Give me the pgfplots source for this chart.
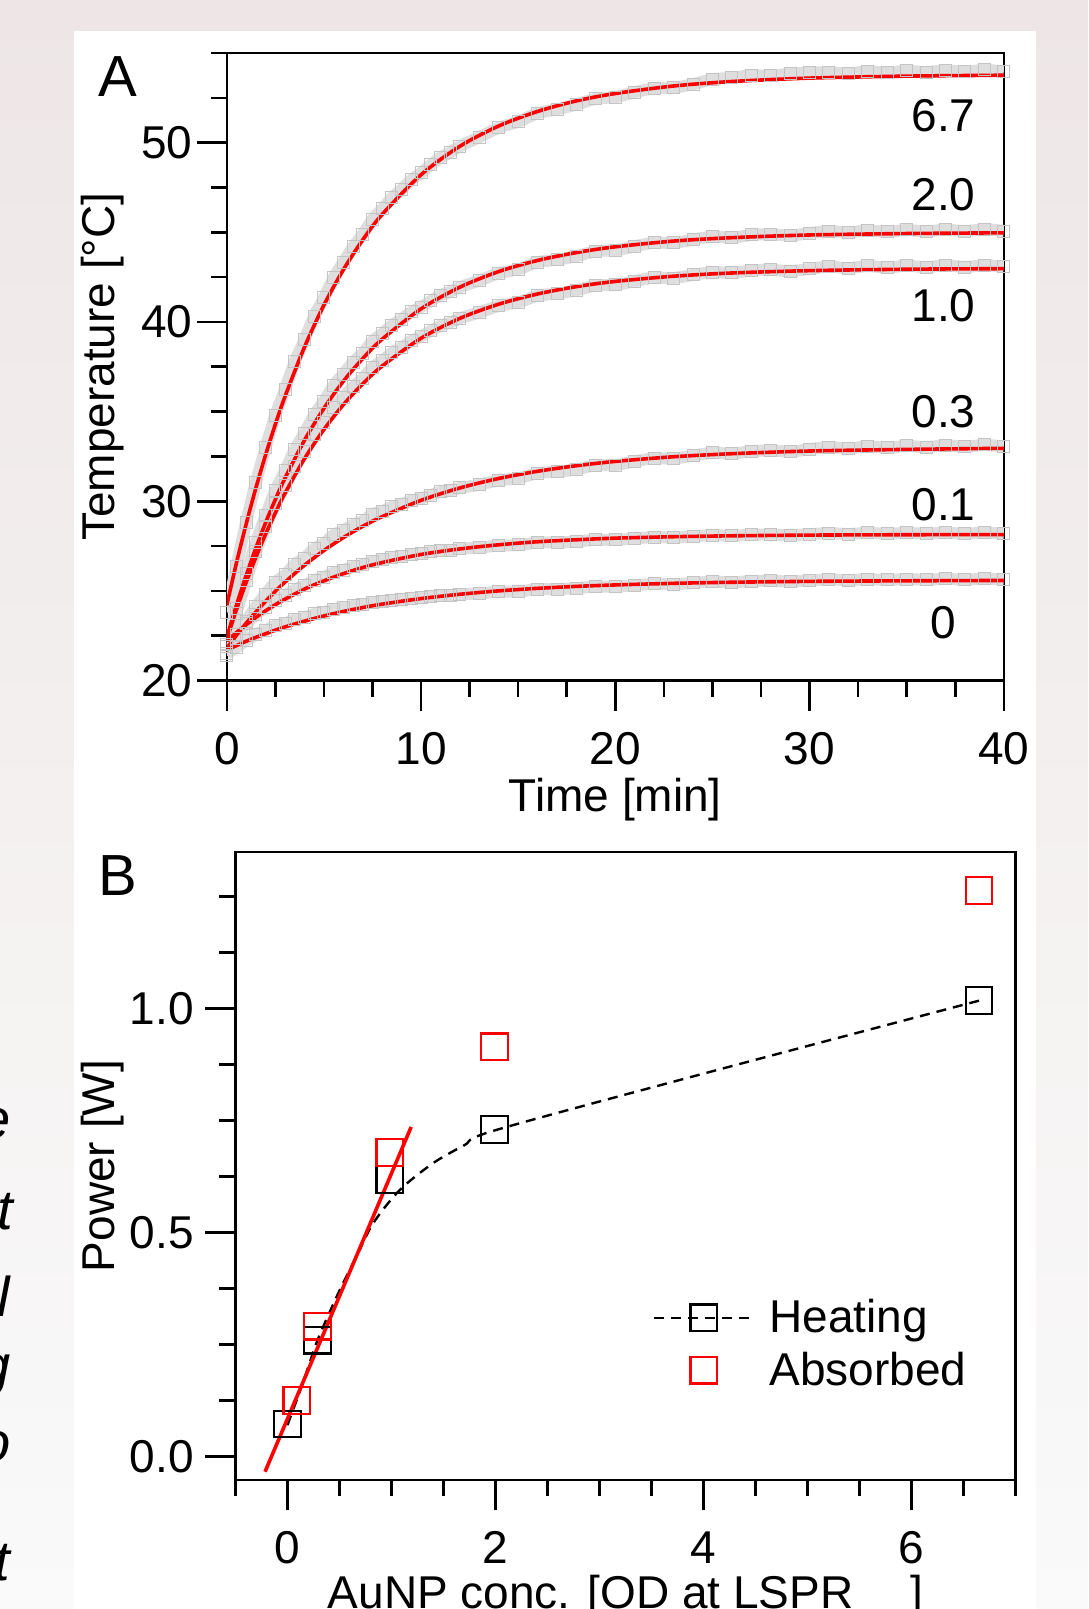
\documentclass[border=0pt]{standalone}
\usepackage{fontspec}
\setmainfont{Liberation Sans}
\usepackage{pgfplots}
\usepackage{pgfplotstable}
\pgfplotsset{compat=1.18}

\definecolor{bgtop}{RGB}{238,230,230}
\definecolor{bgbot}{RGB}{250,250,250}
\definecolor{markgray}{RGB}{196,196,196}
\definecolor{bandgray}{RGB}{222,222,222}

% measured temperature traces (gray squares)
\pgfplotstableread{
t    c67   c20   c10   c03   c01   c0
0    23.80 22.00 21.90 21.40 22.00 21.50
0.5  26.37 24.01 23.76 22.32 22.58 21.85
1    28.84 25.97 25.58 23.30 23.16 22.24
1.5  31.05 27.70 27.18 24.13 23.67 22.56
2    32.99 29.21 28.57 24.82 24.09 22.81
2.5  34.79 30.60 29.85 25.48 24.48 23.06
3    36.25 31.69 30.85 25.89 24.74 23.19
3.5  37.78 32.89 31.95 26.48 25.08 23.40
4    39.00 33.80 32.77 26.83 25.30 23.51
4.5  40.32 34.82 33.72 27.35 25.59 23.71
5    41.34 35.58 34.40 27.65 25.76 23.80
5.5  42.47 36.46 35.22 28.12 26.02 23.98
6    43.31 37.09 35.78 28.37 26.16 24.05
6.5  44.18 37.75 36.39 28.69 26.34 24.16
7    44.88 38.26 36.85 28.90 26.45 24.22
7.5  45.72 38.93 37.47 29.28 26.65 24.37
8    46.30 39.34 37.84 29.44 26.73 24.41
8.5  46.92 39.82 38.28 29.69 26.86 24.49
9    47.40 40.16 38.58 29.83 26.92 24.53
9.5  47.92 40.56 38.95 30.04 27.03 24.60
10   48.31 40.83 39.19 30.15 27.08 24.62
10.5 48.76 41.17 39.50 30.34 27.17 24.69
11   49.17 41.49 39.79 30.52 27.25 24.75
11.5 49.45 41.68 39.96 30.58 27.27 24.76
12   49.80 41.94 40.20 30.74 27.34 24.81
13   50.31 42.31 40.53 30.92 27.42 24.86
14   50.83 42.71 40.89 31.17 27.52 24.95
15   51.17 42.94 41.10 31.28 27.56 24.97
16   51.64 43.33 41.46 31.57 27.69 25.09
17   51.86 43.47 41.58 31.64 27.70 25.10
18   52.13 43.67 41.77 31.78 27.75 25.15
19   52.45 43.95 42.03 32.01 27.85 25.24
20   52.54 43.99 42.06 32.02 27.84 25.23
21   52.81 44.22 42.27 32.22 27.92 25.31
22   53.04 44.42 42.47 32.40 28.00 25.39
23   53.06 44.41 42.45 32.38 27.97 25.37
24   53.26 44.59 42.62 32.54 28.04 25.44
25   53.54 44.75 42.78 32.70 28.11 25.51
26   53.61 44.70 42.73 32.65 28.07 25.48
27   53.77 44.85 42.87 32.79 28.13 25.54
28   53.72 44.89 42.91 32.83 28.14 25.56
29   53.86 44.82 42.83 32.77 28.10 25.52
30   53.90 44.95 42.96 32.90 28.16 25.58
31   53.93 45.07 43.08 33.02 28.22 25.64
32   53.86 44.99 43.00 32.94 28.17 25.60
33   53.98 45.11 43.12 33.06 28.23 25.65
34   53.90 45.02 43.03 32.98 28.18 25.61
35   54.01 45.13 43.14 33.09 28.23 25.66
36   53.93 45.04 43.05 33.01 28.19 25.62
37   54.04 45.15 43.16 33.12 28.24 25.67
38   53.95 45.06 43.06 33.03 28.19 25.62
39   54.06 45.17 43.17 33.14 28.24 25.68
40   53.96 45.07 43.07 33.05 28.19 25.63
}\grayA

% fitted curves (red)
\pgfplotstableread{
t   f67   f20   f10   f03   f01   f0
0   24.20 22.40 22.30 21.80 22.20 21.70
0.5 26.57 24.21 23.96 22.52 22.68 21.95
1   28.74 25.87 25.48 23.20 23.11 22.19
1.5 30.75 27.40 26.88 23.83 23.52 22.41
2   32.59 28.81 28.17 24.42 23.89 22.61
2.5 34.29 30.10 29.35 24.98 24.23 22.81
3   35.85 31.29 30.45 25.49 24.54 22.99
4   38.60 33.40 32.37 26.43 25.10 23.31
5   40.94 35.18 34.00 27.25 25.56 23.60
6   42.91 36.69 35.38 27.97 25.96 23.85
7   44.58 37.96 36.55 28.60 26.30 24.07
8   46.00 39.04 37.54 29.14 26.58 24.26
10  48.21 40.73 39.09 30.05 27.03 24.57
12  49.80 41.94 40.20 30.74 27.34 24.81
14  50.93 42.81 40.99 31.27 27.57 25.00
16  51.74 43.43 41.56 31.67 27.74 25.14
18  52.33 43.87 41.97 31.98 27.85 25.25
20  52.74 44.19 42.26 32.22 27.94 25.33
23  53.16 44.51 42.55 32.48 28.02 25.42
26  53.41 44.70 42.73 32.65 28.07 25.48
30  53.60 44.85 42.86 32.80 28.11 25.53
35  53.71 44.93 42.94 32.89 28.13 25.56
40  53.76 44.97 42.97 32.95 28.14 25.58
}\fitA

\pgfplotsset{
  panel/.style={
    scale only axis,
    axis line style={line width=1.3pt},
    tick style={black, line width=1.3pt},
    major tick style={black, line width=1.3pt},
    minor tick style={black, line width=1.3pt},
    major tick length=15pt,
    minor tick length=8pt,
    tick align=outside,
    xtick pos=left, ytick pos=left,
    tick label style={font=\fontsize{23}{27}\selectfont, inner sep=1pt},
    xticklabel style={yshift=-9.5pt},
    label style={font=\fontsize{23}{27}\selectfont},
    /pgf/number format/assume math mode=true,
  }
}

\begin{document}
\begin{tikzpicture}
\useasboundingbox (0,0) rectangle (544pt,-804.5pt);
\clip (0,0) rectangle (544pt,-804.5pt);
\shade[top color=bgtop, bottom color=bgbot] (0,0) rectangle (544pt,-804.5pt);
\fill[white] (37pt,-15.5pt) rectangle (518pt,-806pt);

% cut-off caption text on the left
\begin{scope}[font=\fontsize{28}{34}\selectfont\itshape]
\node[anchor=base east, inner sep=0pt] at (5.5pt,-569pt) {e};
\node[anchor=base east, inner sep=0pt] at (6.7pt,-614.6pt) {t};
\node[anchor=base east, inner sep=0pt] at (5.0pt,-658pt) {l};
\node[anchor=base east, inner sep=0pt] at (5.5pt,-692pt) {g};
\node[anchor=base east, inner sep=0pt] at (5.5pt,-730.6pt) {o};
\node[anchor=base east, inner sep=0pt] at (5.0pt,-790pt) {t};
\end{scope}

\node[font=\fontsize{29}{34}\selectfont] at (59pt,-38.5pt) {A};
\node[font=\fontsize{29}{34}\selectfont] at (59pt,-437.8pt) {B};

% ---------- panel A ----------
\begin{axis}[panel,
  at={(113.4pt,-340.25pt)}, anchor=south west,
  width=388.5pt, height=313.75pt,
  xmin=0, xmax=40, ymin=20, ymax=55,
  xtick={0,10,20,30,40},
  minor xtick={2.5,5,7.5,12.5,15,17.5,22.5,25,27.5,32.5,35,37.5},
  ytick={20,30,40,50},
  minor ytick={22.5,25,27.5,32.5,35,37.5,42.5,45,47.5,52.5,55},
  yticklabel style={xshift=-1pt},
  xlabel={Time [min]}, ylabel={Temperature [°C]},
  xlabel style={at={(axis description cs:0.5,-0.19)}, anchor=center},
  ylabel style={at={(axis description cs:-0.16,0.5)}, anchor=center},
]
\foreach \c in {c67,c20,c10,c03,c01,c0}{
  \addplot[bandgray, line width=6pt, smooth, forget plot] table[x=t, y=\c] {\grayA};
}
\foreach \c in {c67,c20,c10,c03,c01,c0}{
  \addplot[only marks, mark=square, mark size=3pt, markgray,
           mark options={line width=0.5pt}, forget plot] table[x=t, y=\c] {\grayA};
}
\foreach \c in {f67,f20,f10,f03,f01,f0}{
  \addplot[red, line width=1.8pt, smooth, forget plot] table[x=t, y=\c] {\fitA};
}
\begin{scope}[font=\fontsize{23}{27}\selectfont]
\node at (axis cs:36.9,51.5) {6.7};
\node at (axis cs:36.9,47.1) {2.0};
\node at (axis cs:36.9,40.9) {1.0};
\node at (axis cs:36.9,35.0) {0.3};
\node at (axis cs:36.9,29.8) {0.1};
\node at (axis cs:36.9,23.2) {0};
\end{scope}
\end{axis}

% ---------- panel B ----------
\begin{axis}[panel,
  at={(117.7pt,-740pt)}, anchor=south west,
  width=390pt, height=314pt,
  xmin=-0.5, xmax=7, ymin=-0.0525, ymax=1.35,
  xtick={0,2,4,6},
  minor xtick={-0.5,0.5,1,1.5,2.5,3,3.5,4.5,5,5.5,6.5,7},
  ytick={0,0.5,1},
  minor ytick={0.125,0.25,0.375,0.625,0.75,0.875,1.125,1.25},
  yticklabel style={xshift=-4.6pt, /pgf/number format/.cd, fixed, fixed zerofill, precision=1},
  xlabel={AuNP conc. [OD at LSPR\raisebox{-0.7em}{\fontsize{15}{15}\selectfont max}]}, ylabel={Power [W]},
  xlabel style={at={(axis description cs:0.5,-0.205)}, anchor=base},
  ylabel style={at={(axis description cs:-0.17,0.5)}, anchor=center},
  legend image code/.code={\path (0pt,0pt) (55pt,0pt);
     \draw[mark repeat=2, mark phase=2, #1]
     plot coordinates {(0pt,0pt) (24.75pt,0pt) (49.5pt,0pt)};},
  legend style={draw=none, fill=none, font=\fontsize{23}{27}\selectfont,
     at={(axis description cs:0.535,0.2166)}, anchor=west,
     row sep=4pt, inner sep=0pt},
  legend cell align=left,
]
\addplot[black, line width=1.2pt, dash pattern=on 5pt off 3.5pt, smooth, forget plot]
coordinates {(0.0,0.07) (0.15,0.165) (0.29,0.26) (0.5,0.37) (0.665,0.447)
 (0.825,0.521) (1.08,0.595) (1.4,0.655) (1.7,0.695) (1.99,0.728) (4.0,0.855) (6.65,1.018)};
\addplot[only marks, black, mark=square, mark size=6.67pt, mark options={line width=1.1pt}, forget plot]
coordinates {(0,0.0725) (0.29,0.26) (0.985,0.619) (1.99,0.730) (6.65,1.018)};
\addplot[only marks, red, mark=square, mark size=6.67pt, mark options={line width=1.1pt}, forget plot]
coordinates {(0.09,0.125) (0.29,0.291) (0.985,0.679) (1.99,0.915) (6.65,1.264)};
\addplot[red, line width=1.8pt, forget plot]
coordinates {(-0.215,-0.034) (1.19,0.736)};
\addlegendimage{black, line width=1.2pt, dash pattern=on 5pt off 3.5pt, mark=square, mark size=6.67pt, mark options={solid, line width=1.1pt}}
\addlegendentry{Heating}
\addlegendimage{only marks, red, mark=square, mark size=6.67pt, mark options={line width=1.1pt}}
\addlegendentry{Absorbed}
\end{axis}
\end{tikzpicture}
\end{document}
